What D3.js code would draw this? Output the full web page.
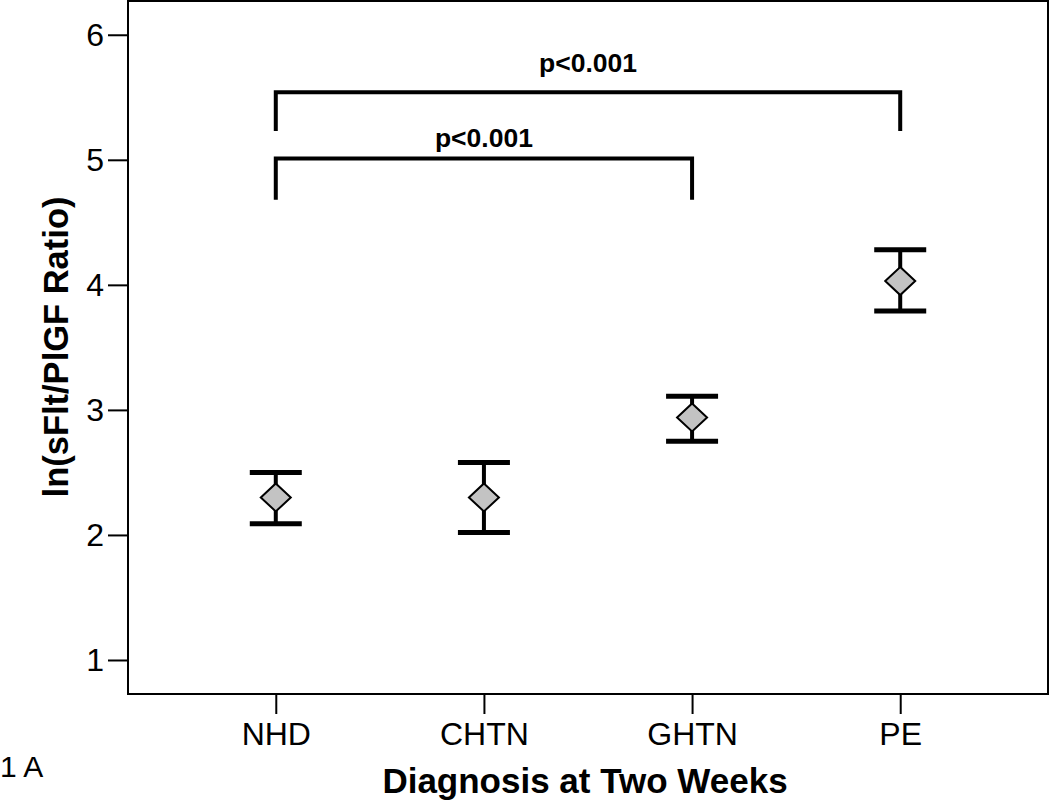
<!DOCTYPE html>
<html>
<head>
<meta charset="utf-8">
<script src="https://cdn.jsdelivr.net/npm/d3@7"></script>
<style>
body { margin: 0; background: #fff; }
text { font-family: "Liberation Sans", Arial, sans-serif; }
</style>
</head>
<body>
<script>
var margin = {top: 1, right: 2, bottom: 117, left: 128};
var width = 1050 - margin.left - margin.right;
var height = 811 - margin.top - margin.bottom;

// data
var groups = ["NHD", "CHTN", "GHTN", "PE"];
var means = [2.30, 2.30, 2.94, 4.03];
var lower = [2.09, 2.02, 2.75, 3.79];
var upper = [2.50, 2.58, 3.11, 4.28];
var yTicks = [1, 2, 3, 4, 5, 6];
// brackets: [from, to, y level, left drop, right drop, label y, label]
var brackets = [
  ["NHD", "PE", 5.54, 5.23, 5.23, 5.70, "p<0.001"],
  ["NHD", "GHTN", 5.01, 4.68, 4.68, 5.10, "p<0.001"]
];

var svg = d3.select("body").append("svg")
  .attr("width", 1050)
  .attr("height", 811);

var g = svg.append("g")
  .attr("transform", "translate(" + margin.left + "," + margin.top + ")");

var xScale = d3.scalePoint().domain(groups).range([0, width]).padding(0.71);
var yScale = d3.scaleLinear().domain([0.728, 6.27]).range([height, 0]);

// frame
g.append("rect")
  .attr("width", width).attr("height", height)
  .attr("fill", "none").attr("stroke", "#000").attr("stroke-width", 2);

// axes
var yAxis = d3.axisLeft(yScale).tickValues(yTicks).tickFormat(d3.format("d")).tickSize(20).tickPadding(4);
var xAxis = d3.axisBottom(xScale).tickSize(20).tickPadding(8);

var yG = g.append("g").call(yAxis);
var xG = g.append("g").attr("transform", "translate(0," + height + ")").call(xAxis);
[yG, xG].forEach(function(a) {
  a.select(".domain").remove();
  a.selectAll(".tick line").attr("stroke", "#000").attr("stroke-width", 2);
  a.selectAll(".tick text").attr("fill", "#000").style("font-size", "32px")
    .style("font-family", "'Liberation Sans', Arial, sans-serif");
});

// brackets
brackets.forEach(function(b) {
  var x1 = xScale(b[0]), x2 = xScale(b[1]);
  g.append("path")
    .attr("d", "M" + x1 + "," + yScale(b[3]) + "V" + yScale(b[2]) + "H" + x2 + "V" + yScale(b[4]))
    .attr("fill", "none").attr("stroke", "#000").attr("stroke-width", 4);
  g.append("text")
    .attr("x", (x1 + x2) / 2)
    .attr("y", yScale(b[5]))
    .attr("text-anchor", "middle")
    .style("font-size", "26.5px").style("font-weight", "bold")
    .text(b[6]);
});

// error bars
var cap = 26;
groups.forEach(function(d, i) {
  var x = xScale(d);
  g.append("line")
    .attr("x1", x).attr("x2", x)
    .attr("y1", yScale(lower[i])).attr("y2", yScale(upper[i]))
    .attr("stroke", "#000").attr("stroke-width", 4);
  [lower[i], upper[i]].forEach(function(v) {
    g.append("line")
      .attr("x1", x - cap).attr("x2", x + cap)
      .attr("y1", yScale(v)).attr("y2", yScale(v))
      .attr("stroke", "#000").attr("stroke-width", 5);
  });
});

// diamonds
g.selectAll("path.mean")
  .data(groups)
  .enter()
  .append("path")
  .attr("class", "mean")
  .attr("transform", function(d, i) { return "translate(" + xScale(d) + "," + yScale(means[i]) + ")"; })
  .attr("d", "M0,-14L15,0L0,14L-15,0Z")
  .attr("fill", "#c3c3c3").attr("stroke", "#000").attr("stroke-width", 2);

// titles
svg.append("text")
  .attr("transform", "translate(68,347) rotate(-90)")
  .attr("text-anchor", "middle")
  .style("font-size", "34.5px").style("font-weight", "bold")
  .text("ln(sFlt/PlGF Ratio)");

svg.append("text")
  .attr("x", 585).attr("y", 793)
  .attr("text-anchor", "middle")
  .style("font-size", "35px").style("font-weight", "bold")
  .text("Diagnosis at Two Weeks");

svg.append("text")
  .attr("x", 0).attr("y", 777)
  .style("font-size", "30px")
  .text("1 A");
</script>
</body>
</html>
